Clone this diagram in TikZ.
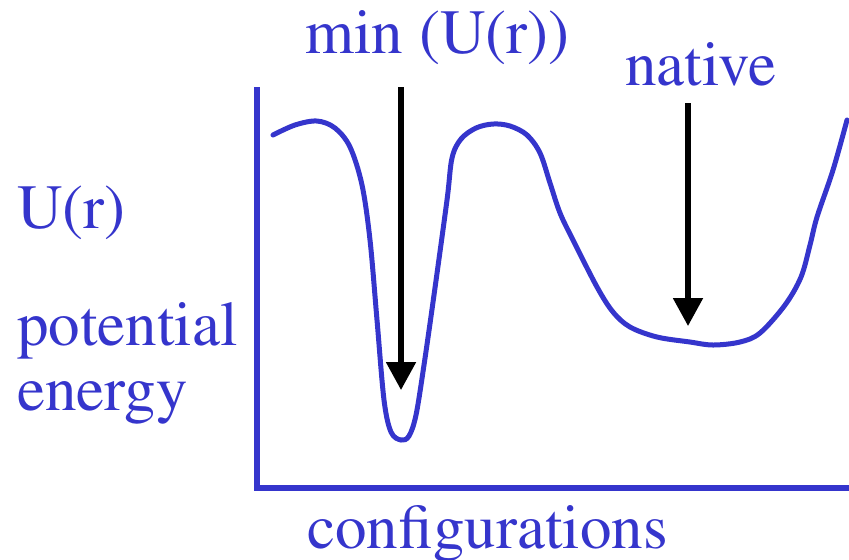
\documentclass[tikz,border=0pt]{standalone}
\usepackage[T1]{fontenc}
\usepackage{times}
\usetikzlibrary{arrows.meta, positioning}
\definecolor{PlotBlue}{HTML}{3535CC}
\definecolor{PointerBlack}{HTML}{000000}

\begin{document}
\begin{tikzpicture}[
    x=0.5pt, y=-0.5pt,
    % Text Styles
    lbl/.style={font=\rmfamily\fontsize{31.5}{36}\selectfont, text=PlotBlue, inner sep=0pt, anchor=base west},
    % Line Styles
    axis/.style={PlotBlue, line width=2.9pt, line join=miter},
    curve/.style={PlotBlue, line width=2.5pt, line cap=round},
    pointer/.style={PointerBlack, line width=2.6pt, -{Triangle[length=14pt, width=14.5pt]}}
]
    \useasboundingbox (0,0) rectangle (849,559);

    % ==========================================
    % Axes
    % ==========================================
    \coordinate (Top) at (257,87);
    \coordinate (Origin) at (257,488);
    \coordinate (Right) at (849,488);
    \draw[axis] (Top) -- (Origin) -- (Right);

    % ==========================================
    % Energy landscape
    % ==========================================
    \draw[curve] plot[smooth, tension=0.55] coordinates {
        (273,135) (295,125) (317,121) (335,128) (350,147) (362,185)
        (370,240) (377,320) (384,400) (391,432) (401,440) (409,436)
        (416,415) (424,365) (434,295) (447,200) (452,158) (461,139)
        (476,128) (493,124) (510,126) (527,135) (540,153) (550,183)
        (560,213) (573,240) (597,287) (613,312) (630,327) (657,337)
        (690,342) (713,345) (740,342) (760,333) (785,305) (801,277)
        (810,245) (817,217) (833,170) (847,120)};

    % ==========================================
    % Labels
    % ==========================================
    \node[lbl] (minlabel) at (305,53) {min (U(r))};
    \node[lbl] (nativelabel) at (625,85) {native};
    \node[lbl] (ulabel) at (17,228) {U(r)};
    \node[lbl] (potlabel) at (17,345) {potential};
    \node[lbl] (enlabel) at (17,410) {energy};
    \node[lbl] (conflabel) at (307,548) {configurations};

    % ==========================================
    % Pointers
    % ==========================================
    \coordinate (MinStart) at (401,87);
    \coordinate (MinTip) at (401,390);
    \coordinate (NatStart) at (688,103);
    \coordinate (NatTip) at (688,326);
    \draw[pointer] (MinStart) -- (MinTip);
    \draw[pointer] (NatStart) -- (NatTip);

\end{tikzpicture}
\end{document}
